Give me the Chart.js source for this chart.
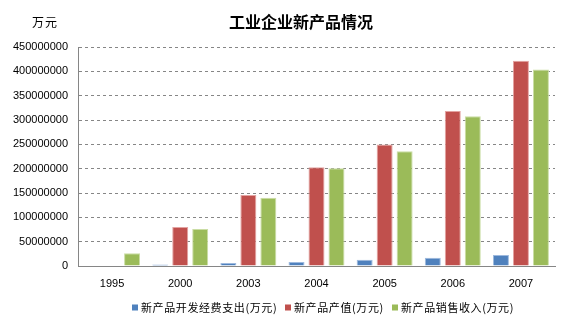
<!DOCTYPE html>
<html>
<head>
<meta charset="utf-8">
<script src="https://cdn.jsdelivr.net/npm/chart.js@4"></script>
<style>
html,body{margin:0;padding:0;background:#fff;}
#wrap{width:569px;height:329px;position:relative;}
</style>
</head>
<body>
<div id="wrap"><canvas id="c" width="569" height="329"></canvas></div>
<script>
const titleText = '工业企业新产品情况';
const unitText = '万元';
const years = ['1995','2000','2003','2004','2005','2006','2007'];
const seriesNames = ['新产品开发经费支出(万元)','新产品产值(万元)','新产品销售收入(万元)'];
const rdSpend = [null, 3000000, 6200000, 8200000, 13000000, 17000000, 22600000];
const newOutput = [null, 80000000, 145700000, 203000000, 249600000, 318700000, 422000000];
const newSales = [26000000, 76000000, 140000000, 201000000, 236000000, 307800000, 404000000];
const yMin = 0, yMax = 450000000, yStep = 50000000;

const colors = ['#4F81BD','#C0504D','#9BBB59'];
const edges = ['#9DB9DE','#E3A3A1','#CADDA4'];
const CJK = '"Noto Sans CJK SC", "Liberation Sans", sans-serif';

const extras = {
  id: 'extras',
  afterDraw(chart) {
    const ctx = chart.ctx;
    ctx.save();
    ctx.fillStyle = '#000';
    ctx.textBaseline = 'middle';
    ctx.font = 'bold 16px ' + CJK;
    ctx.textAlign = 'center';
    ctx.fillText(titleText, 301, 22);
    ctx.font = '12px ' + CJK;
    ctx.textAlign = 'left';
    ctx.letterSpacing = '1px';
    ctx.fillText(unitText, 32, 22);
    const boxX = [132, 285, 392];
    ctx.font = '11px ' + CJK;
    ctx.letterSpacing = '0.6px';
    chart.data.datasets.forEach((ds, i) => {
      ctx.fillStyle = ds.backgroundColor;
      ctx.fillRect(boxX[i], 304.5, 6, 6);
      ctx.fillStyle = '#000';
      ctx.fillText(ds.label, boxX[i] + 9, 308);
    });
    ctx.restore();
  }
};

new Chart(document.getElementById('c'), {
  type: 'bar',
  data: {
    labels: years,
    datasets: [rdSpend, newOutput, newSales].map((d, i) => ({
      label: seriesNames[i],
      data: d,
      backgroundColor: colors[i],
      borderColor: edges[i],
      borderWidth: 1,
      borderSkipped: 'bottom',
      categoryPercentage: 0.88,
      barPercentage: 0.8
    }))
  },
  options: {
    responsive: false,
    animation: false,
    devicePixelRatio: 1,
    layout: { padding: { top: 47, right: 14, left: 0, bottom: 0 } },
    plugins: { legend: { display: false }, title: { display: false }, tooltip: { enabled: false } },
    scales: {
      x: {
        grid: { display: false, drawTicks: false },
        border: { display: true, color: '#868686', width: 1 },
        ticks: { color: '#000', font: { family: '"Liberation Sans", Arial, sans-serif', size: 11 }, padding: 11 },
        afterFit(scale) { scale.height = 63; }
      },
      y: {
        min: yMin, max: yMax,
        grid: { color: '#868686', drawTicks: false, lineWidth: 1 },
        border: { display: true, color: '#868686', width: 1, dash: [3, 3] },
        ticks: {
          stepSize: yStep, color: '#000', padding: 10,
          font: { family: '"Liberation Sans", Arial, sans-serif', size: 11 },
          callback: v => String(v)
        },
        afterFit(scale) { scale.width = 78; }
      }
    }
  },
  plugins: [extras]
});
</script>
</body>
</html>
